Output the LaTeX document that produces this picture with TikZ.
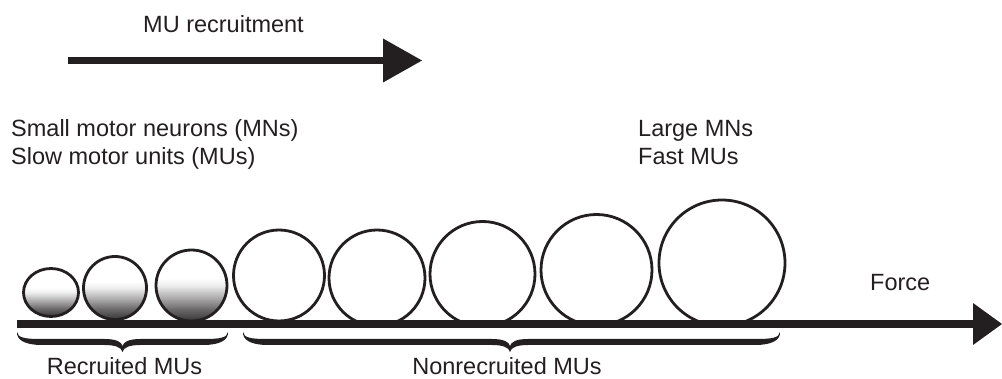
\documentclass[tikz,border=0pt]{standalone}
\usepackage{fontspec}
\setmainfont{Liberation Sans}
\usetikzlibrary{shapes.geometric}
\definecolor{ink}{HTML}{231F20}
\pgfdeclareverticalshading{mushade}{100bp}{color(0bp)=(ink); color(25bp)=(ink!90); color(33bp)=(ink!68); color(42bp)=(ink!35); color(50bp)=(ink!8); color(55bp)=(white); color(100bp)=(white)}
\newcommand\mubrace[3]{%
  \fill[ink] (#1,332) .. controls (#1+1,338) and (#1+8,339) .. (#1+25,339)
    -- (#2-18,339) .. controls (#2-6,339) and (#2-1,342) .. (#2,346)
    .. controls (#2+1,342) and (#2+6,339) .. (#2+18,339)
    -- (#3-25,339) .. controls (#3-8,339) and (#3-1,338) .. (#3,332)
    .. controls (#3+0.5,340) and (#3-8,345) .. (#3-25,345)
    -- (#2+18,345) .. controls (#2+8,345) and (#2+1,347) .. (#2,352)
    .. controls (#2-1,347) and (#2-8,345) .. (#2-18,345)
    -- (#1+25,345) .. controls (#1+8,345) and (#1-0.5,340) .. (#1,332) -- cycle;}
\begin{document}
\begin{tikzpicture}[x=1pt,y=-1pt,
  lbl/.style={inner sep=0pt,anchor=base west,text=ink,font=\fontsize{23.5}{28}\selectfont},
  mu/.style={circle,draw=ink,line width=2.8pt,inner sep=0pt,fill=white},
  murec/.style={mu,shade,shading=mushade},
  bar/.style={line width=#1,draw=ink}]
\useasboundingbox (0,0) rectangle (1002,379);
% top arrow
\node[lbl] (rec) at (143,33) {MU recruitment};
\coordinate (r0) at (68,60.5);
\coordinate (r1) at (422,60.5);
\draw[bar=7pt] (r0) -- ([xshift=-37pt]r1);
\fill[ink] (r1) -- ++(-39,-22) -- ++(0,44) -- cycle;
% side labels
\node[lbl] (small) at (11,137) {Small motor neurons (MNs)};
\node[lbl] (slow) at (11,165) {Slow motor units (MUs)};
\node[lbl] (large) at (638,137) {Large MNs};
\node[lbl] (fast) at (638,165) {Fast MUs};
% motor units
\node[murec,ellipse,minimum width=55pt,minimum height=48pt] (u1) at (51,292.5) {};
\node[murec,minimum size=63pt] (u2) at (115,288) {};
\node[murec,minimum size=71pt] (u3) at (191.5,285.5) {};
\node[mu,minimum size=91pt] (u4) at (279,275.5) {};
\node[mu,minimum size=96pt] (u5) at (377,278) {};
\node[mu,minimum size=105pt] (u6) at (482.5,274) {};
\node[mu,minimum size=111pt] (u7) at (596.5,270) {};
\node[mu,minimum size=126pt] (u8) at (722,263) {};
% force axis
\coordinate (f0) at (17,324);
\coordinate (f1) at (1002,324);
\draw[bar=8pt] (f0) -- ([xshift=-27pt]f1);
\fill[ink] (f1) -- ++(-29,-21) -- ++(0,42) -- cycle;
\node[lbl] (force) at (870,291) {Force};
% braces
\mubrace{17}{122.5}{228}
\mubrace{243}{510}{780}
\node[lbl,anchor=base] (recd) at (124.5,375) {Recruited MUs};
\node[lbl,anchor=base] (nonrec) at (507,375) {Nonrecruited MUs};
\end{tikzpicture}
\end{document}
